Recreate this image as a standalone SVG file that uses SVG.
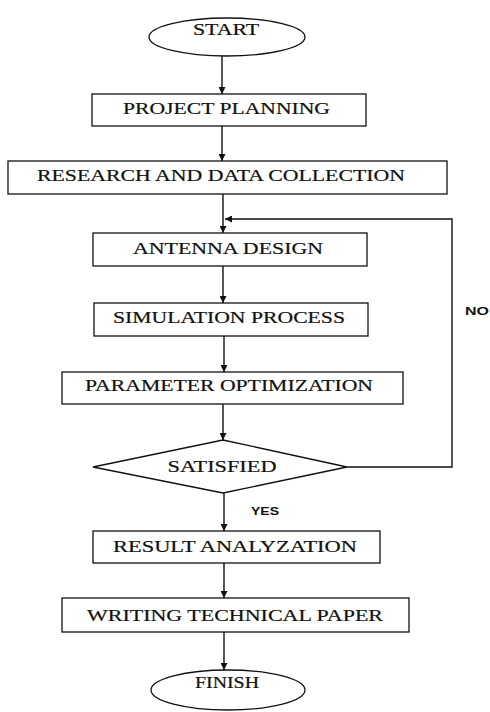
<svg xmlns="http://www.w3.org/2000/svg" width="490" height="712" viewBox="0 0 490 712">
<defs>
<style>
.shape{fill:#fff;stroke:#111;stroke-width:1.3}
.lbl{font-family:"Liberation Serif","Times New Roman",serif;font-size:17px;fill:#111;stroke:#111;stroke-width:0.2;text-anchor:middle}
.small{font-family:"Liberation Sans",Arial,sans-serif;font-size:10px;font-weight:bold;fill:#111}
.conn{fill:none;stroke:#111;stroke-width:1.4}
</style>
<marker id="ah" viewBox="0 0 10 10" refX="10" refY="5" markerWidth="7" markerHeight="7" markerUnits="userSpaceOnUse" orient="auto">
<path d="M0,0 L10,5 L0,10 z" fill="#111"/>
</marker>
</defs>
<rect width="490" height="712" fill="#fff"/>
<g id="connectors">
<line class="conn" x1="222" y1="56" x2="222" y2="94" marker-end="url(#ah)"/>
<line class="conn" x1="222" y1="126" x2="222" y2="161" marker-end="url(#ah)"/>
<line class="conn" x1="223" y1="194" x2="223" y2="233" marker-end="url(#ah)"/>
<polyline class="conn" points="347,467 452,467 452,219 225,219" marker-end="url(#ah)"/>
<line class="conn" x1="223" y1="266" x2="223" y2="303" marker-end="url(#ah)"/>
<line class="conn" x1="224" y1="336" x2="224" y2="372" marker-end="url(#ah)"/>
<line class="conn" x1="223" y1="404" x2="223" y2="440" marker-end="url(#ah)"/>
<line class="conn" x1="224" y1="493" x2="224" y2="531" marker-end="url(#ah)"/>
<line class="conn" x1="224" y1="563" x2="224" y2="598" marker-end="url(#ah)"/>
<line class="conn" x1="224" y1="632" x2="224" y2="670" marker-end="url(#ah)"/>
<text class="small" x="465" y="315" textLength="24" lengthAdjust="spacingAndGlyphs">NO</text>
<text class="small" x="251" y="515" textLength="28" lengthAdjust="spacingAndGlyphs">YES</text>
</g>
<g id="start">
<ellipse class="shape" cx="227" cy="37" rx="78" ry="19"/>
<text class="lbl" x="226" y="35" style="font-size:16px" textLength="66" lengthAdjust="spacingAndGlyphs">START</text>
</g>
<g id="project-planning">
<rect class="shape" x="92" y="94" width="274" height="32"/>
<text class="lbl" x="226.5" y="114" textLength="207" lengthAdjust="spacingAndGlyphs">PROJECT PLANNING</text>
</g>
<g id="research">
<rect class="shape" x="8" y="161" width="439" height="33"/>
<text class="lbl" x="221" y="181" textLength="368" lengthAdjust="spacingAndGlyphs">RESEARCH AND DATA COLLECTION</text>
</g>
<g id="antenna-design">
<rect class="shape" x="93" y="233" width="274" height="33"/>
<text class="lbl" x="228" y="254" textLength="190" lengthAdjust="spacingAndGlyphs">ANTENNA DESIGN</text>
</g>
<g id="simulation">
<rect class="shape" x="94" y="303" width="274" height="33"/>
<text class="lbl" x="229" y="323" textLength="232" lengthAdjust="spacingAndGlyphs">SIMULATION PROCESS</text>
</g>
<g id="parameter">
<rect class="shape" x="62" y="372" width="341" height="32"/>
<text class="lbl" x="229" y="391" textLength="288" lengthAdjust="spacingAndGlyphs">PARAMETER OPTIMIZATION</text>
</g>
<g id="satisfied">
<polygon class="shape" points="223,440 347,467 223,493 93,467"/>
<text class="lbl" x="222" y="472" textLength="109" lengthAdjust="spacingAndGlyphs">SATISFIED</text>
</g>
<g id="result">
<rect class="shape" x="93" y="531" width="287" height="32"/>
<text class="lbl" x="235" y="552" textLength="244" lengthAdjust="spacingAndGlyphs">RESULT ANALYZATION</text>
</g>
<g id="writing">
<rect class="shape" x="62" y="598" width="347" height="34"/>
<text class="lbl" x="235" y="621" textLength="296" lengthAdjust="spacingAndGlyphs">WRITING TECHNICAL PAPER</text>
</g>
<g id="finish">
<ellipse class="shape" cx="228" cy="690" rx="77" ry="20"/>
<text class="lbl" x="227" y="688" style="font-size:16px" textLength="64" lengthAdjust="spacingAndGlyphs">FINISH</text>
</g>
</svg>
